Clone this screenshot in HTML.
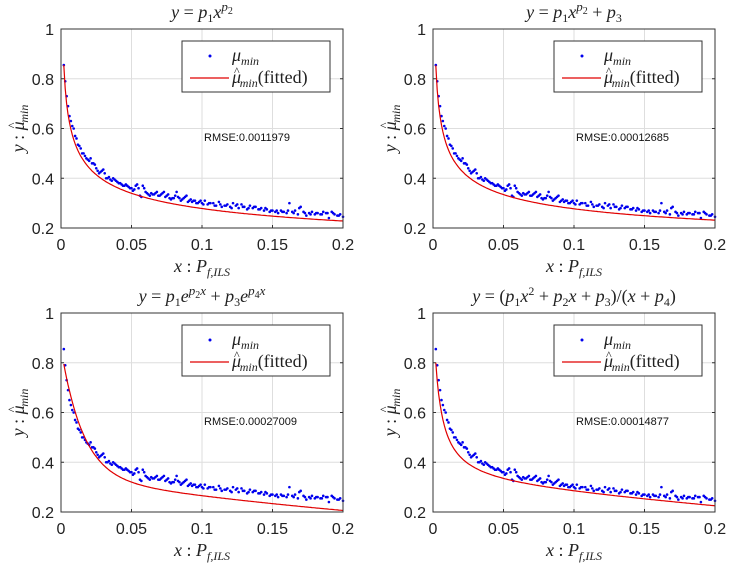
<!DOCTYPE html>
<html><head><meta charset="utf-8"><style>
body{margin:0;background:#fff}
svg{display:block}
.tk{font-family:"Liberation Sans",sans-serif;font-size:16px;fill:#222}
.ser{font-family:"Liberation Serif",serif;fill:#222}
</style></head><body>
<svg id="fig" width="733" height="571" xmlns="http://www.w3.org/2000/svg"></svg>
<script>
const xTicks=[0,0.05,0.1,0.15,0.2];
const xTickLabels=["0","0.05","0.1","0.15","0.2"];
const yTicks=[0.2,0.4,0.6,0.8,1];
const yTickLabels=["0.2","0.4","0.6","0.8","1"];
const dataX=[0.002,0.004,0.006,0.008,0.010,0.012,0.014,0.016,0.018,0.020,0.022,0.024,0.026,0.028,0.030,0.032,0.034,0.036,0.038,0.040,0.042,0.044,0.046,0.048,0.050,0.052,0.054,0.056,0.058,0.060,0.062,0.064,0.066,0.068,0.070,0.072,0.074,0.076,0.078,0.080,0.082,0.084,0.086,0.088,0.090,0.092,0.094,0.096,0.098,0.100,0.102,0.104,0.106,0.108,0.110,0.112,0.114,0.116,0.118,0.120,0.122,0.124,0.126,0.128,0.130,0.132,0.134,0.136,0.138,0.140,0.142,0.144,0.146,0.148,0.150,0.152,0.154,0.156,0.158,0.160,0.162,0.164,0.166,0.168,0.170,0.172,0.174,0.176,0.178,0.180,0.182,0.184,0.186,0.188,0.190,0.192,0.194,0.196,0.198,0.200];
const dataY=[.855,.73,.65,.61,.57,.535,.52,.50,.48,.47,.46,.455,.43,.425,.435,.40,.405,.39,.395,.385,.38,.37,.375,.365,.36,.355,.375,.33,.37,.345,.335,.34,.335,.345,.33,.34,.325,.335,.315,.32,.345,.32,.315,.325,.305,.315,.31,.30,.305,.30,.31,.295,.30,.30,.29,.305,.285,.29,.295,.285,.30,.29,.28,.295,.285,.275,.29,.28,.285,.275,.28,.27,.275,.265,.27,.265,.26,.27,.265,.26,.30,.265,.27,.255,.285,.265,.25,.26,.265,.255,.26,.255,.265,.26,.24,.265,.255,.25,.255,.245];
const dataX2=[0.003,0.005,0.007,0.009,0.011,0.013,0.015,0.017,0.019,0.021,0.023,0.025,0.027,0.029,0.031,0.033,0.035,0.037,0.039,0.041,0.043,0.045,0.047,0.049,0.051,0.053,0.055,0.057,0.059,0.061,0.063,0.065,0.067,0.069,0.071,0.073,0.075,0.077,0.079,0.081,0.083,0.085,0.087,0.089,0.091,0.093,0.095,0.097,0.099,0.101,0.105,0.109,0.113,0.117,0.121,0.125,0.129,0.133,0.137,0.141,0.145,0.149,0.153,0.157,0.161,0.165,0.169,0.173,0.177,0.181,0.185,0.189,0.193,0.197];
const dataY2=[.79,.69,.63,.60,.56,.53,.50,.49,.475,.48,.46,.44,.42,.43,.42,.40,.395,.40,.39,.38,.375,.37,.37,.36,.35,.37,.36,.325,.36,.34,.33,.335,.34,.33,.335,.345,.33,.32,.32,.33,.325,.31,.32,.33,.31,.305,.31,.30,.31,.295,.30,.29,.295,.29,.28,.295,.285,.28,.285,.275,.28,.27,.27,.265,.27,.26,.28,.26,.255,.26,.255,.26,.26,.25];
const fitParams=[[0.1437,-0.287],[0.108,-0.323,0.05],[0.52,-65,0.34,-2.5],[-0.462,0.301,0.0042,0.004]];
const fitFns=[
 (x,p)=>p[0]*Math.pow(x,p[1]),
 (x,p)=>p[0]*Math.pow(x,p[1])+p[2],
 (x,p)=>p[0]*Math.exp(p[1]*x)+p[2]*Math.exp(p[3]*x),
 (x,p)=>(p[0]*x*x+p[1]*x+p[2])/(x+p[3])];
const rmse=["RMSE:0.0011979","RMSE:0.00012685","RMSE:0.00027009","RMSE:0.00014877"];
const titles=[
 '<tspan font-style="italic">y</tspan> = <tspan font-style="italic">p</tspan><tspan font-size="12" dy="4">1</tspan><tspan font-style="italic" dy="-4">x</tspan><tspan font-style="italic" font-size="13" dy="-7">p</tspan><tspan font-size="10" dy="3">2</tspan>',
 '<tspan font-style="italic">y</tspan> = <tspan font-style="italic">p</tspan><tspan font-size="12" dy="4">1</tspan><tspan font-style="italic" dy="-4">x</tspan><tspan font-style="italic" font-size="13" dy="-7">p</tspan><tspan font-size="10" dy="3">2</tspan><tspan dy="4"> + </tspan><tspan font-style="italic">p</tspan><tspan font-size="12" dy="4">3</tspan>',
 '<tspan font-style="italic">y</tspan> = <tspan font-style="italic">p</tspan><tspan font-size="12" dy="4">1</tspan><tspan font-style="italic" dy="-4">e</tspan><tspan font-style="italic" font-size="13" dy="-7">p</tspan><tspan font-size="10" dy="3">2</tspan><tspan font-style="italic" font-size="13" dy="-3">x</tspan><tspan dy="7"> + </tspan><tspan font-style="italic">p</tspan><tspan font-size="12" dy="4">3</tspan><tspan font-style="italic" dy="-4">e</tspan><tspan font-style="italic" font-size="13" dy="-7">p</tspan><tspan font-size="10" dy="3">4</tspan><tspan font-style="italic" font-size="13" dy="-3">x</tspan>',
 '<tspan font-style="italic">y</tspan> = (<tspan font-style="italic">p</tspan><tspan font-size="12" dy="4">1</tspan><tspan font-style="italic" dy="-4">x</tspan><tspan font-size="12" dy="-7">2</tspan><tspan dy="7"> + </tspan><tspan font-style="italic">p</tspan><tspan font-size="12" dy="4">2</tspan><tspan font-style="italic" dy="-4">x</tspan> + <tspan font-style="italic">p</tspan><tspan font-size="12" dy="4">3</tspan><tspan dy="-4">)/(</tspan><tspan font-style="italic">x</tspan> + <tspan font-style="italic">p</tspan><tspan font-size="12" dy="4">4</tspan><tspan dy="-4">)</tspan>'];
const panels=[[61,29],[433,29],[61,313],[433,313]];
const W=282,H=199;
const svg=document.getElementById('fig');
const NS="http://www.w3.org/2000/svg";
function mk(tag,attrs,parent){const e=document.createElementNS(NS,tag);for(const k in attrs)e.setAttribute(k,attrs[k]);parent.appendChild(e);return e;}
const MUHAT='<tspan font-style="italic">μ</tspan><tspan font-size="12" dx="-7" dy="-8">^</tspan><tspan font-style="italic" font-size="12" dx="0" dy="12">min</tspan>';
panels.forEach((pp,i)=>{
 const [L,T]=pp;
 const sx=x=>L+x/0.2*W, sy=y=>T+H-(y-0.2)/0.8*H;
 const g=mk('g',{},svg);
 
 
 mk('rect',{x:L,y:T,width:W,height:H,fill:'#fff'},g);
 xTicks.forEach((t,j)=>{
  mk('line',{x1:sx(t),x2:sx(t),y1:T,y2:T+H,stroke:'#dedede','stroke-width':1},g);
  const tl=mk('text',{x:sx(t),y:T+H+22,'text-anchor':'middle',class:'tk'},g);tl.textContent=xTickLabels[j];
  
  
  mk('line',{x1:sx(t),x2:sx(t),y1:T+H,y2:T+H-3,stroke:'#333'},g);
 });
 yTicks.forEach((t,j)=>{
  mk('line',{x1:L,x2:L+W,y1:sy(t),y2:sy(t),stroke:'#dedede','stroke-width':1},g);
  const tl=mk('text',{x:L-7,y:sy(t)+6,'text-anchor':'end',class:'tk'},g);tl.textContent=yTickLabels[j];
  
  
  mk('line',{x1:L,x2:L+3,y1:sy(t),y2:sy(t),stroke:'#333'},g);
  mk('line',{x1:L+W,x2:L+W-3,y1:sy(t),y2:sy(t),stroke:'#333'},g);
 });
 const dots=mk('g',{fill:'#0000ee'},g);
 
 
 dataX.forEach((x,k)=>mk('circle',{cx:sx(x),cy:sy(dataY[k]),r:1.3},dots));
 dataX2.forEach((x,k)=>mk('circle',{cx:sx(x),cy:sy(dataY2[k]),r:1.3},dots));
 let d='';for(let k=0;k<=198;k++){const x=0.002+k*0.001;d+=(k?'L':'M')+sx(x).toFixed(1)+','+sy(fitFns[i](x,fitParams[i])).toFixed(1);}
 const fl=mk('path',{d:d,fill:'none',stroke:'#e00000','stroke-width':1.2},g);
 
 
 mk('rect',{x:L,y:T,width:W,height:H,fill:'none',stroke:'#333','stroke-width':1},g);
 const t=mk('text',{x:L+W/2,y:T-11,'text-anchor':'middle',class:'ser','font-size':18},g);t.innerHTML=titles[i];
 
 
 const xl=mk('text',{x:L+W/2,y:T+H+44,'text-anchor':'middle',class:'ser','font-size':18},g);
 xl.innerHTML='<tspan font-style="italic">x</tspan> : <tspan font-style="italic">P</tspan><tspan font-style="italic" font-size="12" dy="4">f,ILS</tspan>';
 
 
 const yl=mk('text',{transform:`translate(${L-37},${T+H/2}) rotate(-90)`,'text-anchor':'middle',class:'ser','font-size':18},g);
 yl.innerHTML='<tspan font-style="italic">y</tspan> : '+MUHAT;
 
 
 const r=mk('text',{x:L+143,y:T+112,style:'font-family:"Liberation Sans",sans-serif;font-size:11px;fill:#111'},g);r.textContent=rmse[i];
 
 
 const lg=mk('g',{},g);
 
 
 const lx=L+121,ly=T+12;
 mk('rect',{x:lx,y:ly,width:148,height:51,fill:'#fff',stroke:'#333'},lg);
 mk('circle',{cx:lx+28,cy:ly+15,r:1.5,fill:'#0000ee'},lg);
 const l1=mk('text',{x:lx+50,y:ly+20,class:'ser','font-size':18},lg);
 l1.innerHTML='<tspan font-style="italic">μ</tspan><tspan font-style="italic" font-size="12" dy="4">min</tspan>';
 mk('line',{x1:lx+8,x2:lx+47,y1:ly+37,y2:ly+37,stroke:'#e00000','stroke-width':1.2},lg);
 const l2=mk('text',{x:lx+50,y:ly+42,class:'ser','font-size':18},lg);
 l2.innerHTML=MUHAT+'<tspan dy="-4">(fitted)</tspan>';
});
</script>
</body></html>
